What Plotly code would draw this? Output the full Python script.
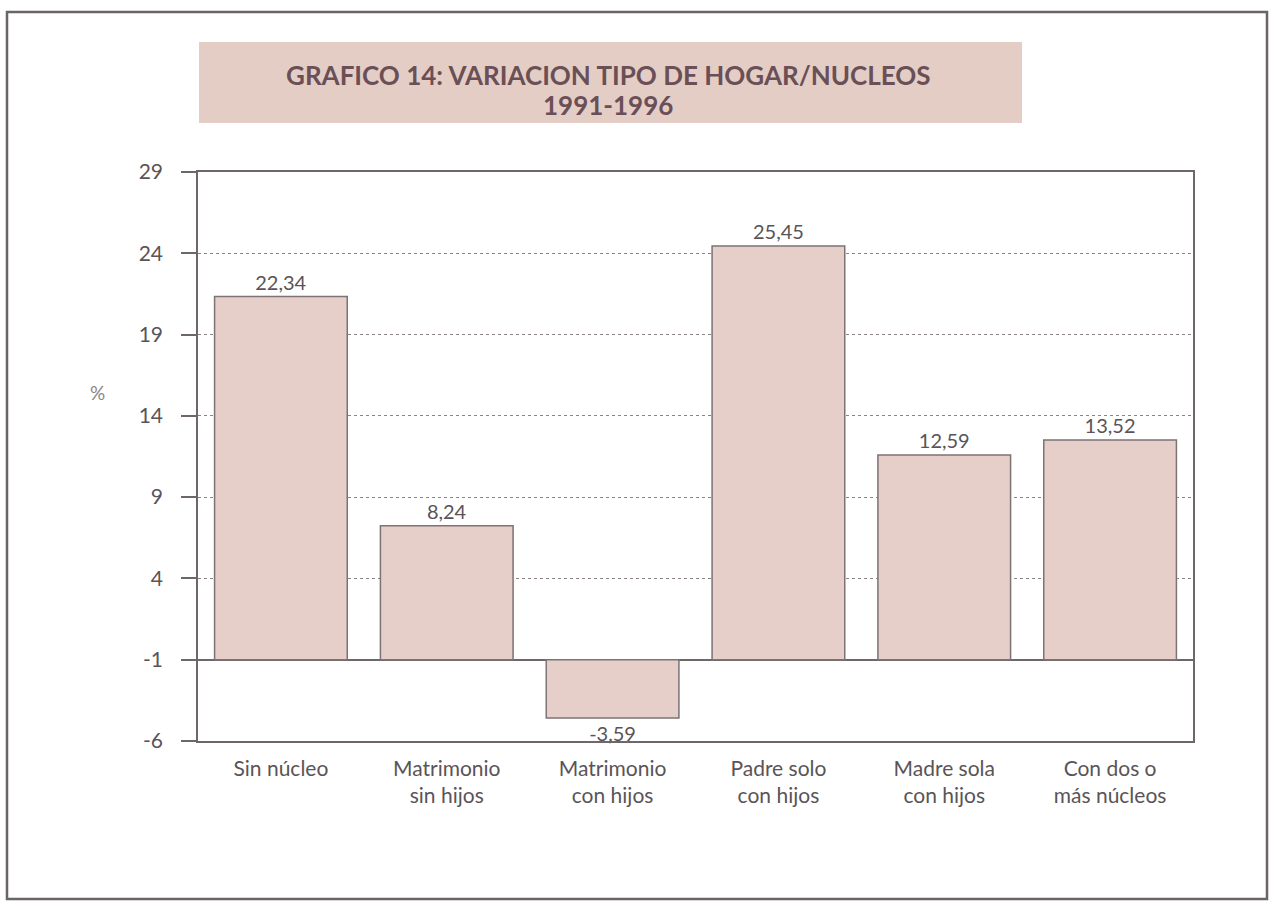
import plotly.graph_objects as go

# Household / family-nucleus type change, 1991-1996 (%)
categories = [
    "Sin núcleo",
    "Matrimonio<br>sin hijos",
    "Matrimonio<br>con hijos",
    "Padre solo<br>con hijos",
    "Madre sola<br>con hijos",
    "Con dos o<br>más núcleos",
]
values = [22.34, 8.24, -3.59, 25.45, 12.59, 13.52]

# Axis scale and the printed tick labels
tick_values = [-5, 0, 5, 10, 15, 20, 25, 30]
tick_labels = ["-6", "-1", "4", "9", "14", "19", "24", "29"]

W, H = 1273, 903
L, R, T, B = 198, 1193, 172, 741


def px(x):
    return (x - L) / (R - L)


def py(y):
    return (B - y) / (B - T)


text_color = "#5a5458"
bar_fill = "#e6cfc8"
bar_line = "#7d7274"
font_family = "Lato, 'Open Sans', sans-serif"

labels = [f"{v:.2f}".replace(".", ",") for v in values]

fig = go.Figure(
    go.Bar(
        x=categories,
        y=values,
        width=0.8,
        marker=dict(color=bar_fill, line=dict(color=bar_line, width=1.5)),
        text=labels,
        textposition="outside",
        textfont=dict(size=20, color=text_color, family=font_family),
        cliponaxis=False,
        hoverinfo="skip",
    )
)

title_font = dict(size=26, color="#6a4f57", family=font_family)

fig.update_layout(
    width=W,
    height=H,
    margin=dict(l=L, r=W - R, t=T, b=H - B),
    paper_bgcolor="white",
    plot_bgcolor="white",
    showlegend=False,
    separators=",.",
    font=dict(family=font_family, color=text_color),
    xaxis=dict(
        showgrid=False,
        showline=True,
        linecolor="#6e6668",
        linewidth=1.5,
        mirror=True,
        ticks="",
        ticklabelstandoff=8,
        tickfont=dict(size=21, color=text_color),
    ),
    yaxis=dict(
        range=[-5, 30],
        tickvals=tick_values,
        ticktext=tick_labels,
        showgrid=True,
        gridcolor="#8a8284",
        griddash="dot",
        gridwidth=1.2,
        zeroline=True,
        zerolinecolor="#6e6668",
        zerolinewidth=1.5,
        showline=True,
        linecolor="#6e6668",
        linewidth=1.5,
        mirror=True,
        ticks="outside",
        ticklen=15,
        tickcolor="#6e6668",
        tickwidth=1.5,
        ticklabelstandoff=14,
        tickfont=dict(size=21, color=text_color),
    ),
    shapes=[
        # outer frame
        dict(
            type="rect", xref="paper", yref="paper",
            x0=px(7), x1=px(1267), y0=py(899), y1=py(12),
            line=dict(color="#6a6466", width=2.5),
            fillcolor="rgba(0,0,0,0)", layer="below",
        ),
        # title band
        dict(
            type="rect", xref="paper", yref="paper",
            x0=px(199), x1=px(1022), y0=py(123), y1=py(42),
            line=dict(width=0), fillcolor="#e4cdc5", layer="below",
        ),
    ],
    annotations=[
        dict(
            text="<b>GRAFICO 14: VARIACION TIPO DE HOGAR/NUCLEOS</b>",
            xref="paper", yref="paper",
            x=px(608), y=py(75),
            xanchor="center", yanchor="middle",
            showarrow=False,
            font=title_font,
        ),
        dict(
            text="<b>1991-1996</b>",
            xref="paper", yref="paper",
            x=px(608), y=py(105),
            xanchor="center", yanchor="middle",
            showarrow=False,
            font=title_font,
        ),
        dict(
            text="%",
            xref="paper", yref="paper",
            x=px(97), y=py(392),
            xanchor="center", yanchor="middle",
            showarrow=False,
            font=dict(size=19, color="#8a8486", family=font_family),
        ),
    ],
)

fig.write_html("out.html")
